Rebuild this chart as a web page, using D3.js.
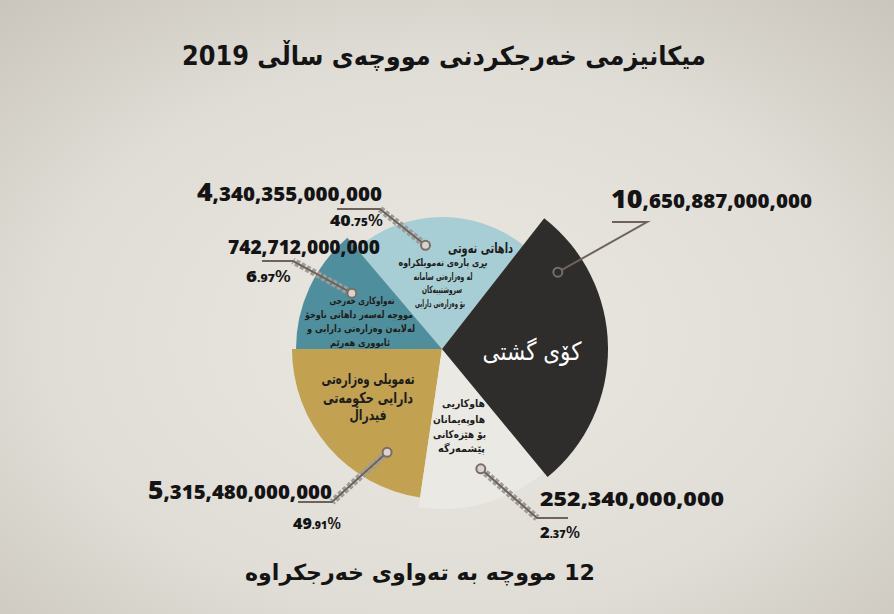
<!DOCTYPE html>
<html>
<head>
<meta charset="utf-8">
<script src="https://cdn.jsdelivr.net/npm/d3@7/dist/d3.min.js"></script>
<style>
  html, body { margin: 0; padding: 0; background: #dedad2; }
  svg { display: block; }
</style>
</head>
<body>
<svg id="chart" width="894" height="614"></svg>
<script>
// ---------- DATA ----------
const title = "میکانیزمی خەرجکردنی مووچەی ساڵی 2019";
const subtitle = "12 مووچە بە تەواوی خەرجکراوە";
const categories = ["total", "coalition", "federal", "internal", "oil"];
const categoryLines = [
  ["کۆی گشتی"],
  ["هاوکاریی", "هاوپەیمانان", "بۆ هێزەکانی", "پێشمەرگە"],
  ["تەمویلی وەزارەتی", "دارایی حکومەتی", "فیدراڵ"],
  ["تەواوکاری خەرجی", "مووچە لەسەر داهاتی ناوخۆ", "لەلایەن وەزارەتی دارایی و", "ئابووری هەرێم"],
  ["داهاتی نەوتی", "بڕی پارەی تەمویلکراوە", "لە وەزارەتی سامانە", "سروشتییەکان", "بۆ وەزارەتی دارایی"]
];
const amounts = [10650887000000, 252340000000, 5315480000000, 742712000000, 4340355000000];
const percents = [null, 2.37, 49.91, 6.97, 40.75];

// ---------- STYLE / LAYOUT ----------
const sweep = [102.5, 47.9, 81.6, 49.6, 78.4];      // decorative angular spans (deg)
const radii = [166, 160, 150, 146, 132];
const colors = ["#2e2d2b", "#ebe9e4", "#c2a250", "#4f8f9d", "#a8ced5"];
const cx = 442, cy = 349;
const startDeg = 38;

const svg = d3.select("#chart");
const defs = svg.append("defs");
const bg = defs.append("radialGradient").attr("id", "bg").attr("cx", "50%").attr("cy", "55%").attr("r", "75%");
bg.append("stop").attr("offset", "0%").attr("stop-color", "#ebe8e2");
bg.append("stop").attr("offset", "60%").attr("stop-color", "#e0ddd6");
bg.append("stop").attr("offset", "100%").attr("stop-color", "#c9c5bc");
svg.append("rect").attr("width", 894).attr("height", 614).attr("fill", "url(#bg)");

const toRad = d => d * Math.PI / 180;
const pie = d3.pie().sort(null).value(d => d.sweep)
  .startAngle(toRad(startDeg)).endAngle(toRad(startDeg + 360));
const rows = categories.map((c, i) => ({ key: c, sweep: sweep[i], r: radii[i], color: colors[i],
  amount: amounts[i], pct: percents[i], lines: categoryLines[i], i }));
const arcs = pie(rows);
const arc = d3.arc().innerRadius(0).outerRadius(d => d.data.r);

const g = svg.append("g").attr("transform", `translate(${cx},${cy})`);
[4, 3, 2, 1].forEach(i => {
  g.append("path").attr("d", arc(arcs[i])).attr("fill", arcs[i].data.color);
});

const arabicFont = "'DejaVu Sans', 'Noto Sans', sans-serif";
function line(txt, x, y, size, anchor, width, opts) {
  opts = opts || {};
  const t = svg.append("text").attr("direction", "rtl").attr("text-anchor", anchor)
    .attr("x", x).attr("y", y).attr("font-family", arabicFont)
    .attr("font-weight", opts.weight || 700).attr("font-size", size)
    .attr("fill", opts.color || "#1d1d1b").text(txt);
  if (width) t.attr("textLength", width).attr("lengthAdjust", "spacingAndGlyphs");
  return t;
}

// oil
line(categoryLines[4][0], 513, 253, 14, "start", 65);
[[443, 266, 89], [443, 280, 59], [442, 293, 40], [440, 307, 50]].forEach((p, k) =>
  line(categoryLines[4][k + 1], p[0], p[1], 10, "middle", p[2]));
// internal
[[362, 304, 65], [359, 318, 108], [361, 332, 108], [360, 346, 60]].forEach((p, k) =>
  line(categoryLines[3][k], p[0], p[1], 10, "middle", p[2]));
// federal
[[368, 384, 93], [368, 403, 90], [368, 420, 37]].forEach((p, k) =>
  line(categoryLines[2][k], p[0], p[1], 15, "middle", p[2]));
// coalition
[[485, 407, 43], [485, 423, 52], [486, 438, 53], [485, 452, 47]].forEach((p, k) =>
  line(categoryLines[1][k], p[0], p[1], 10.5, "start", p[2]));

// total slice on top
g.append("path").attr("d", arc(arcs[0])).attr("fill", arcs[0].data.color);
line(categoryLines[0][0], 532, 360, 25, "middle", 99, { color: "#ffffff", weight: 400 });

// ---------- LEADERS ----------
const markFrac = [0.18, 0.45, 0.24, 0.64, 0.40];
const markR = [139, 126, 117, 106, 105];
const leaders = [
  { elbow: [647, 222], end: [612, 222], chain: false },
  { elbow: [537, 518], end: [568, 518], chain: true },
  { elbow: [332, 502], end: [298, 502], chain: true },
  { elbow: [293, 261], end: [262, 261], chain: true },
  { elbow: [380, 209], end: [337, 209], chain: true }
];
arcs.forEach((a, i) => {
  const ang = a.startAngle + (a.endAngle - a.startAngle) * markFrac[i];
  const mx = cx + markR[i] * Math.sin(ang), my = cy - markR[i] * Math.cos(ang);
  const L = leaders[i];
  if (L.chain) {
    svg.append("line").attr("x1", mx).attr("y1", my).attr("x2", L.elbow[0]).attr("y2", L.elbow[1])
      .attr("stroke", "#9d9c99").attr("stroke-width", 7).attr("stroke-dasharray", "4,2");
    svg.append("line").attr("x1", mx).attr("y1", my).attr("x2", L.elbow[0]).attr("y2", L.elbow[1])
      .attr("stroke", "#c9c8c4").attr("stroke-width", 2.5).attr("stroke-dasharray", "2,4");
  }
  svg.append("polyline").attr("points", [[mx, my], L.elbow, L.end].map(p => p.join(",")).join(" "))
    .attr("fill", "none").attr("stroke", "#6f625d").attr("stroke-width", 2);
  svg.append("circle").attr("cx", mx).attr("cy", my).attr("r", 4.5)
    .attr("fill", i === 0 ? colors[0] : "#d8d3cc").attr("stroke", "#7a6c66").attr("stroke-width", 2);
});

// ---------- VALUE LABELS ----------
const numFont = "'Open Sans', 'Lato', sans-serif";
const fmt = d3.format(",.0f");
function valueLabel(i, x, y, big, small, width) {
  const s = fmt(amounts[i]);
  const first = s.split(",")[0];
  const t = svg.append("text").attr("x", x).attr("y", y).attr("font-family", numFont)
    .attr("font-weight", 800).attr("fill", "#141414")
    .attr("textLength", width).attr("lengthAdjust", "spacingAndGlyphs");
  t.append("tspan").attr("font-size", big).text(first);
  t.append("tspan").attr("font-size", small).text(s.slice(first.length));
  return t;
}
function pctLabel(i, x, y, width) {
  const p = percents[i].toFixed(2).split(".");
  const t = svg.append("text").attr("x", x).attr("y", y).attr("font-family", numFont)
    .attr("font-weight", 800).attr("fill", "#141414")
    .attr("textLength", width).attr("lengthAdjust", "spacingAndGlyphs");
  t.append("tspan").attr("font-size", 16).text(p[0]);
  t.append("tspan").attr("font-size", 10.5).text("." + p[1]);
  t.append("tspan").attr("font-size", 16).attr("font-weight", 600).text("%");
}
valueLabel(0, 611, 208, 25, 19, 201);
valueLabel(4, 197, 201, 24, 18.5, 185);
pctLabel(4, 330, 226, 53);
valueLabel(3, 228, 254, 18.5, 18.5, 152);
pctLabel(3, 246, 282, 45);
valueLabel(2, 148, 499, 24, 18.5, 184);
pctLabel(2, 293, 529, 48);
valueLabel(1, 540, 506, 18.5, 18.5, 184);
pctLabel(1, 540, 538, 40);

// ---------- TITLES ----------
line(title, 444, 65, 26, "middle", 524, { color: "#141414" });
line(subtitle, 420, 580, 22, "middle", 350, { color: "#141414" });
</script>
</body>
</html>
